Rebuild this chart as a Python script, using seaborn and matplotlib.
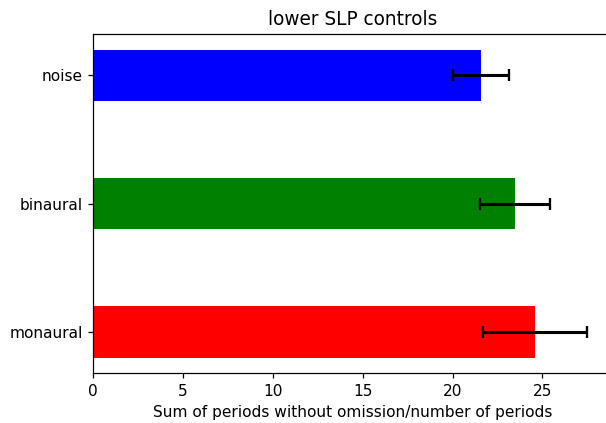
import matplotlib
matplotlib.use("Agg")
import matplotlib.pyplot as plt
import seaborn as sns
import pandas as pd

# values
conditions = ["noise", "binaural", "monaural"]
means = [21.57, 23.46, 24.6]
errors = [1.55, 1.94, 2.9]
colors = ["blue", "green", "red"]

df = pd.DataFrame({"condition": conditions, "value": means})

DPI = 111
fig = plt.figure(figsize=(606 / DPI, 423 / DPI), dpi=DPI)
# reference is cropped at the right, axes run a little past the figure edge
ax = fig.add_axes([0.154, 0.1184, 0.856, 0.8005])

sns.barplot(data=df, x="value", y="condition", hue="condition", order=conditions,
            palette=colors, saturation=1, width=0.4, legend=False, ax=ax)
pos = list(range(len(conditions)))
ax.errorbar(means, pos, xerr=errors, fmt="none", ecolor="black",
            elinewidth=2, capsize=4, capthick=1.5)

ax.set_xlim(0, 28.875)
ax.set_ylim(2.32, -0.32)
ax.set_xticks([0, 5, 10, 15, 20, 25])
ax.spines["right"].set_visible(False)
ax.set_ylabel("")
ax.set_xlabel("Sum of periods without omission/number of periods")
ax.set_title("lower SLP controls")

fig.savefig("out.png", dpi=DPI)
